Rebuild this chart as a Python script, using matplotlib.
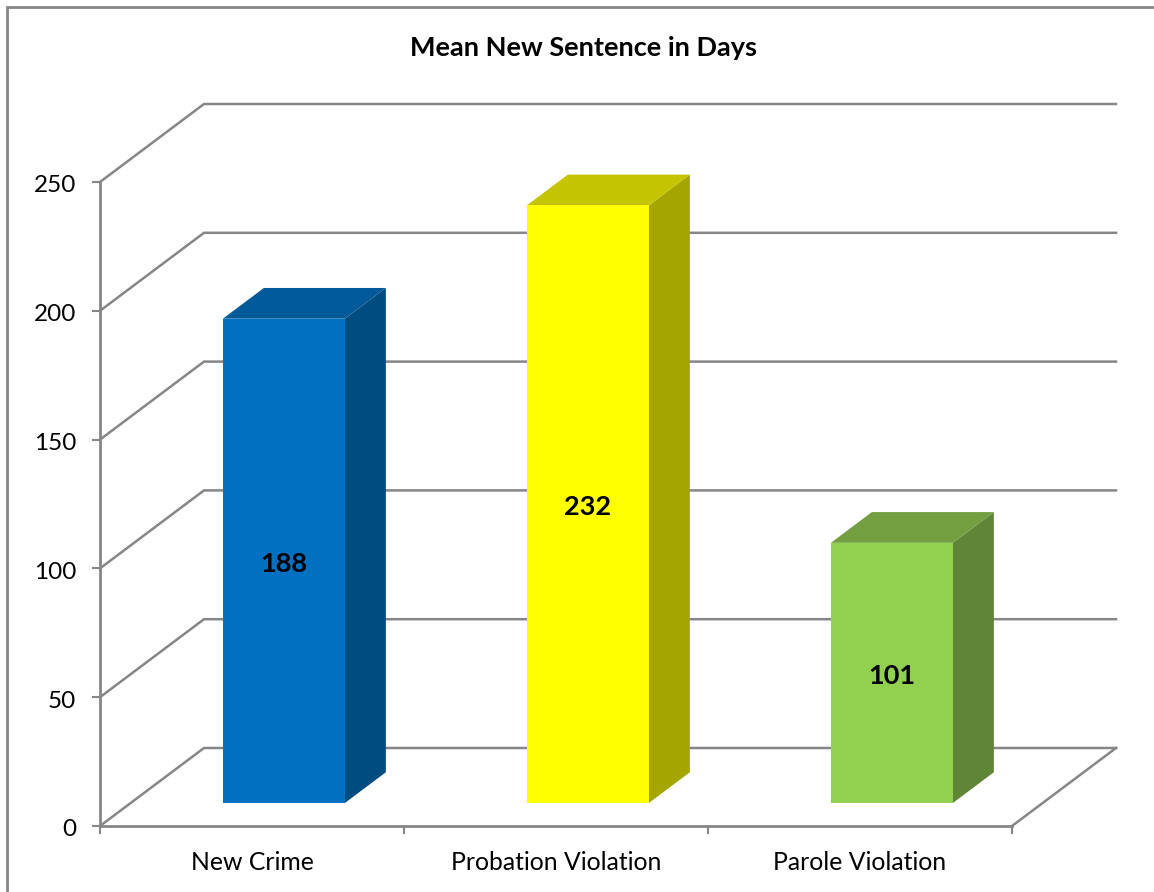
import matplotlib
matplotlib.use("Agg")
import matplotlib.pyplot as plt
from matplotlib.patches import Polygon, Rectangle
from matplotlib.transforms import ScaledTranslation

plt.rcParams['font.family'] = ['Lato', 'DejaVu Sans']

categories = ['New Crime', 'Probation Violation', 'Parole Violation']
values = [188, 232, 101]
y_ticks = [0, 50, 100, 150, 200, 250]
front_colors = ['#0070C0', '#FFFF00', '#92D050']
top_colors = ['#005A9A', '#C4C400', '#739F41']
side_colors = ['#004B80', '#A5A500', '#5F8636']
line_color = '#868686'

W, H = 1154, 892
fig = plt.figure(figsize=(W / 100, H / 100), dpi=100)
# axes box is the front plane of the fake 3d chart
ax = fig.add_axes([100 / W, 1 - 826 / H, 912 / W, 644 / H])
ax.set_xlim(-0.5, 2.5)
ax.set_ylim(0, 250)
ax.patch.set_visible(False)

# how far the back wall is shifted, in data units
depth_x = 104 / 304
depth_y = 78 * 250 / 644
bar_width = 122 / 304
bar_shift = 1.2 / 304
bar_front = 0.295
bar_depth = 0.394


def proj(x, y, d):
    return (x + d * depth_x, y + d * depth_y)


# gridlines: side wall then back wall
for t in y_ticks:
    p0 = proj(-0.5, t, 0)
    p1 = proj(-0.5, t, 1)
    p2 = proj(2.5, t, 1)
    ax.plot([p0[0], p1[0], p2[0]], [p0[1], p1[1], p2[1]], color=line_color,
            lw=1.8, clip_on=False, zorder=1, solid_joinstyle='miter')
# floor right edge
p0 = proj(2.5, 0, 0)
p1 = proj(2.5, 0, 1)
ax.plot([p0[0], p1[0]], [p0[1], p1[1]], color=line_color, lw=1.8, clip_on=False, zorder=1)

for i, v in enumerate(values):
    x0 = i + bar_shift - bar_width / 2
    x1 = i + bar_shift + bar_width / 2
    d0 = bar_front
    d1 = bar_front + bar_depth
    front = [proj(x0, 0, d0), proj(x1, 0, d0), proj(x1, v, d0), proj(x0, v, d0)]
    side = [proj(x1, 0, d0), proj(x1, 0, d1), proj(x1, v, d1), proj(x1, v, d0)]
    top = [proj(x0, v, d0), proj(x1, v, d0), proj(x1, v, d1), proj(x0, v, d1)]
    ax.add_patch(Polygon(side, closed=True, fc=side_colors[i], ec='none', clip_on=False, zorder=3))
    ax.add_patch(Polygon(top, closed=True, fc=top_colors[i], ec='none', clip_on=False, zorder=3))
    ax.add_patch(Polygon(front, closed=True, fc=front_colors[i], ec='none', clip_on=False, zorder=4))
    ax.annotate(str(v), proj(i + bar_shift, v / 2, d0), xytext=(0, -2), textcoords='offset points',
                ha='center', va='center', fontsize=19.5, fontweight='bold',
                color='black', zorder=5)

for s in ['top', 'right']:
    ax.spines[s].set_visible(False)
for s in ['left', 'bottom']:
    ax.spines[s].set_color(line_color)
    ax.spines[s].set_linewidth(2)

ax.set_yticks(y_ticks)
ax.set_xticks([-0.5, 0.5, 1.5, 2.5])
ax.set_xticklabels([])
ax.set_xticks([0, 1, 2], labels=categories, minor=True)
ax.tick_params(axis='y', direction='out', length=6, width=1.5, color=line_color,
               labelsize=17.5, pad=11, labelcolor='black')
ax.tick_params(axis='x', which='major', direction='out', length=6, width=1.5, color=line_color)
ax.tick_params(axis='x', which='minor', length=0, labelsize=17.8, pad=18, labelcolor='black')

# tick numbers sit a touch lower than the tick marks
down = ScaledTranslation(0, -2 / 100, fig.dpi_scale_trans)
for lbl in ax.get_yticklabels():
    lbl.set_transform(lbl.get_transform() + down)

fig.text(583 / W, 1 - 48 / H, 'Mean New Sentence in Days', ha='center', va='center',
         fontsize=19.5, fontweight='bold', color='black')

# chart area border, runs off the right and bottom of the picture
fig.add_artist(Rectangle((7 / W, 1 - 900 / H), 1160 / W, 893 / H, transform=fig.transFigure,
                         fc='none', ec=line_color, lw=2))

fig.savefig('out.png', dpi=100, facecolor='white')
